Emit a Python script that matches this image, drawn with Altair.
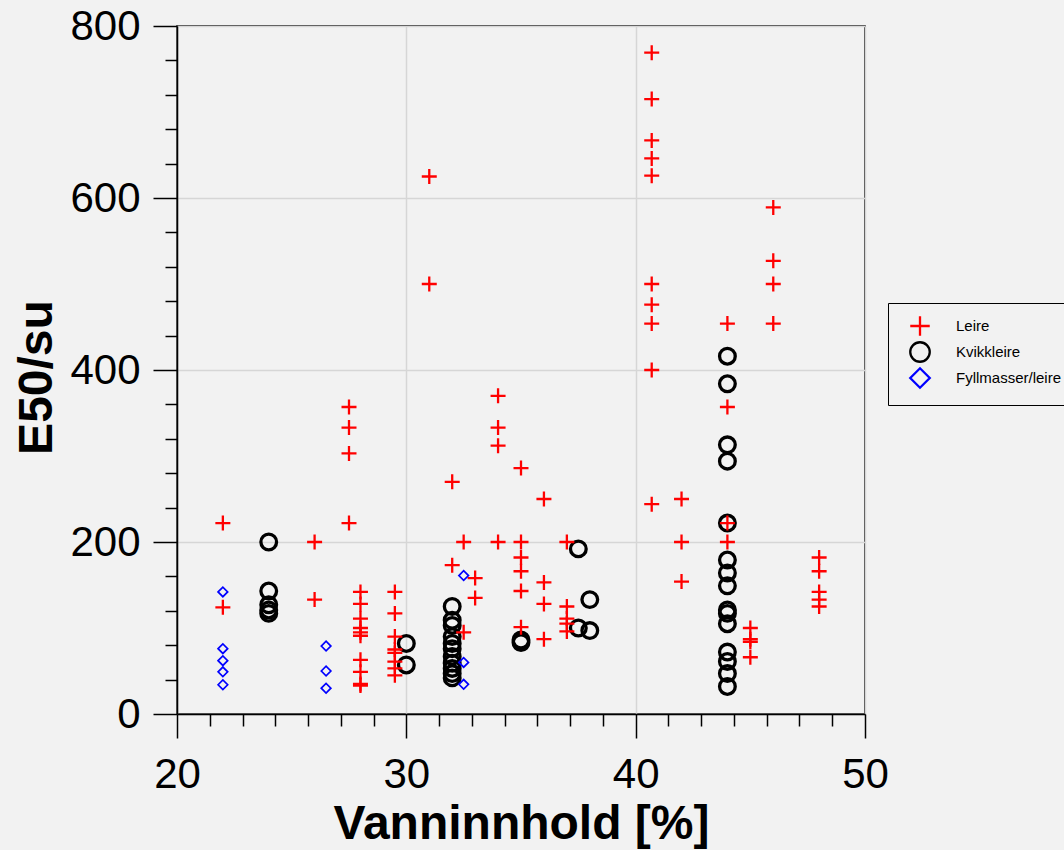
import altair as alt
import pandas as pd

# ---- data ----
leire_x = [22, 22, 26, 26, 27.5, 27.5, 27.5, 27.5,
           28, 28, 28, 28, 28, 28, 28, 28, 28, 28,
           29.5, 29.5, 29.5, 29.5, 29.5, 29.5, 29.5, 29.5,
           31, 31, 32, 32, 32.5, 32.5, 33, 33,
           34, 34, 34, 34, 35, 35, 35, 35, 35, 35,
           36, 36, 36, 36, 37, 37, 37, 37, 37,
           40.7, 40.7, 40.7, 40.7, 40.7, 40.7, 40.7, 40.7, 40.7, 40.7,
           42, 42, 42, 44, 44, 44, 44, 45, 45, 45, 45,
           46, 46, 46, 46, 48, 48, 48, 48, 48]
leire_y = [222, 124, 200, 133, 357, 333, 303, 222,
           142, 128, 111, 100, 95, 91, 63, 49, 35, 33,
           142, 117, 90, 75, 71, 61, 53, 45,
           625, 500, 270, 173, 200, 95, 158, 135,
           370, 333, 312, 200, 286, 200, 182, 166, 143, 101,
           250, 153, 128, 87, 200, 125, 111, 105, 96,
           769, 715, 667, 646, 626, 500, 476, 454, 400, 244,
           250, 200, 154, 454, 357, 222, 200, 100, 87, 84, 66,
           589, 527, 500, 454, 182, 166, 142, 133, 125]

kvikk_x = [24, 24, 24, 24, 24, 30, 30,
           32, 32, 32, 32, 32, 32, 32, 32, 32, 32, 32,
           35, 35, 37.5, 37.5, 38, 38,
           44, 44, 44, 44, 44, 44, 44, 44, 44, 44, 44, 44, 44, 44, 44]
kvikk_y = [200, 143, 127, 121, 117, 82, 57,
           125, 109, 103, 90, 82, 76, 67, 59, 53, 47, 42,
           86, 83, 192, 100, 133, 97,
           416, 384, 313, 294, 222, 179, 164, 149, 121, 117, 105, 72, 61, 47, 32]

fyll_x = [22, 22, 22, 22, 22, 26.5, 26.5, 26.5, 32.5, 32.5, 32.5]
fyll_y = [142, 76, 62, 49, 34, 79, 50, 30, 161, 60, 34.5]

types = ["Leire", "Kvikkleire", "Fyllmasser/leire"]
kinds = ["k_leire", "k_kvikk", "k_fyll"]
colors = ["#ff0000", "#000000", "#0000ff"]

rows = []
for t, k, xs, ys in [("Kvikkleire", "k_kvikk", kvikk_x, kvikk_y),
                     ("Leire", "k_leire", leire_x, leire_y),
                     ("Fyllmasser/leire", "k_fyll", fyll_x, fyll_y)]:
    for a, b in zip(xs, ys):
        rows.append({"w": a, "e": b, "type": t, "kind": k})
df = pd.DataFrame(rows)

cross = "M-1,0L1,0M0,-1L0,1"

x_ticks = [round(20 + 10 * k / 7, 4) for k in range(22)]
y_ticks = list(range(0, 801, 40))

x_major = "abs(datum.value - round(datum.value / 10) * 10) < 0.01"
y_major = "datum.value % 200 === 0"

xaxis = alt.Axis(
    values=x_ticks,
    tickSize={"condition": {"test": x_major, "value": 24}, "value": 12},
    gridOpacity={"condition": {"test": x_major, "value": 1}, "value": 0},
    labelExpr=f"{x_major} ? datum.label : ''",
    labelPadding=16,
    labelOverlap=False,
    labelFlush=False,
    titleX=344, titleY=124, titleAlign="center", titleBaseline="alphabetic",
)
yaxis = alt.Axis(
    values=y_ticks,
    tickSize={"condition": {"test": y_major, "value": 24}, "value": 12},
    gridOpacity={"condition": {"test": y_major, "value": 1}, "value": 0},
    labelExpr=f"{y_major} ? datum.label : ''",
    labelPadding=13,
    labelOverlap=False,
    labelFlush=False,
    titleX=-126, titleY=351, titleAngle=270, titleAlign="center", titleBaseline="alphabetic",
)

legend = alt.Legend(
    title=None, orient="none", legendX=711, legendY=277,
    symbolSize=380, symbolStrokeWidth=2.3, rowPadding=-4,
    symbolOffset=9, labelOffset=25,
)

chart = alt.Chart(df).mark_point(filled=False, opacity=1).encode(
    x=alt.X("w:Q", title="Vanninnhold [%]",
            scale=alt.Scale(domain=[20, 50], nice=False, zero=False), axis=xaxis),
    y=alt.Y("e:Q", title="E50/su",
            scale=alt.Scale(domain=[0, 800], nice=False), axis=yaxis),
    color=alt.Color("type:N", scale=alt.Scale(domain=types, range=colors), legend=legend),
    shape=alt.Shape("type:N", scale=alt.Scale(domain=types, range=[cross, "circle", "diamond"])),
    size=alt.Size("kind:N", scale=alt.Scale(type="ordinal", domain=kinds, range=[225, 246, 92]),
                  legend=None),
    strokeWidth=alt.StrokeWidth("kind:N",
                                scale=alt.Scale(type="ordinal", domain=kinds, range=[2.3, 3.3, 1.7]),
                                legend=None),
).properties(
    width=688, height=688,
    autosize=alt.AutoSizeParams(type="none"),
    padding={"left": 177, "top": 26, "right": 199, "bottom": 136},
    background="#f2f2f2",
).configure_view(
    stroke="black", strokeWidth=1.5, fill="#f2f2f2",
).configure_axis(
    domainColor="black", domainWidth=1.5,
    tickColor="black", tickWidth=1.5,
    gridColor="#d6d6d6", gridWidth=1.5,
    labelFont="Liberation Sans", labelFontSize=42, labelColor="black",
    titleFont="Liberation Sans", titleFontSize=48, titleFontWeight="bold", titleColor="black",
).configure_legend(
    strokeColor="black", fillColor="#f2f2f2", padding=12,
    labelFont="Liberation Sans", labelFontSize=15, labelColor="black",
)

chart.save("out.html", embed_options={"renderer": "svg", "actions": False})
